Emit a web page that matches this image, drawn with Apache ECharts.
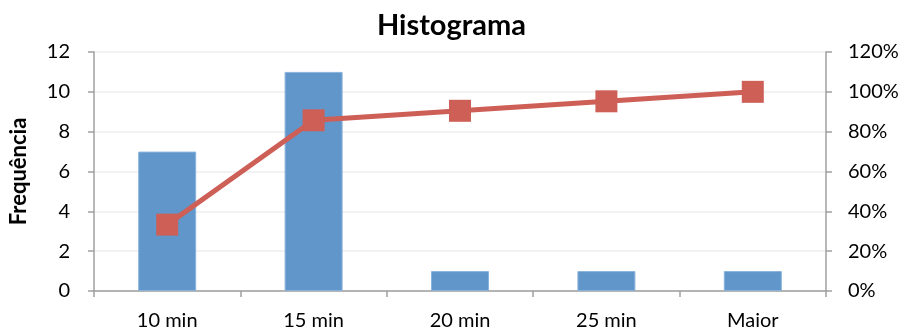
<!DOCTYPE html>
<html>
<head>
<meta charset="utf-8">
<script src="https://cdn.jsdelivr.net/npm/echarts@6/dist/echarts.min.js"></script>
<style>
  html, body { margin: 0; padding: 0; background: #fff; }
  #chart { width: 903px; height: 332px; }
</style>
</head>
<body>
<div id="chart"></div>
<script>
// Frequency histogram with cumulative percentage
const categories = ['10 min', '15 min', '20 min', '25 min', 'Maior'];
const frequencia = [7, 11, 1, 1, 1];
const cumulativoPct = [33.33, 85.71, 90.48, 95.24, 100];

const font = 'Lato, "Open Sans", sans-serif';
const axisGray = '#a0a0a0';

const chart = echarts.init(document.getElementById('chart'), null, { renderer: 'canvas' });
chart.setOption({
  animation: false,
  backgroundColor: '#ffffff',
  title: {
    text: 'Histograma',
    left: 'center',
    top: 6,
    textStyle: { fontFamily: font, fontSize: 29, fontWeight: 'bold', color: '#000' }
  },
  grid: { left: 92, right: 77, top: 52, bottom: 41 },
  xAxis: {
    type: 'category',
    data: categories,
    axisLine: { lineStyle: { color: axisGray, width: 1.5 } },
    axisTick: { show: true, alignWithLabel: false, length: 6, lineStyle: { color: axisGray, width: 1.5 } },
    axisLabel: { fontFamily: font, fontSize: 20, color: '#000', margin: 20 }
  },
  yAxis: [
    {
      type: 'value',
      min: 0, max: 12, interval: 2,
      name: 'Frequência',
      nameLocation: 'middle',
      nameGap: 64,
      nameTextStyle: { fontFamily: font, fontSize: 22, fontWeight: 'bold', color: '#000' },
      axisLine: { show: true, lineStyle: { color: axisGray, width: 1.5 } },
      axisTick: { show: true, length: 6, lineStyle: { color: axisGray, width: 1.5 } },
      axisLabel: { fontFamily: font, fontSize: 20, color: '#000', margin: 24 },
      splitLine: { show: true, lineStyle: { color: '#eeeeee', width: 1.5 } }
    },
    {
      type: 'value',
      min: 0, max: 120, interval: 20,
      position: 'right',
      axisLine: { show: true, lineStyle: { color: axisGray, width: 1.5 } },
      axisTick: { show: true, length: 6, lineStyle: { color: axisGray, width: 1.5 } },
      axisLabel: { fontFamily: font, fontSize: 20, color: '#000', margin: 22, formatter: '{value}%' },
      splitLine: { show: false }
    }
  ],
  series: [
    {
      name: 'Frequência',
      type: 'bar',
      data: frequencia,
      barWidth: 58,
      itemStyle: { color: '#6096c9', borderColor: '#8ab3dc', borderWidth: 1 }
    },
    {
      name: '% cumulativo',
      type: 'line',
      yAxisIndex: 1,
      data: cumulativoPct,
      symbol: 'rect',
      symbolSize: 22,
      lineStyle: { color: '#cd5f57', width: 5 },
      itemStyle: { color: '#cd5f57' }
    }
  ]
});
</script>
</body>
</html>
